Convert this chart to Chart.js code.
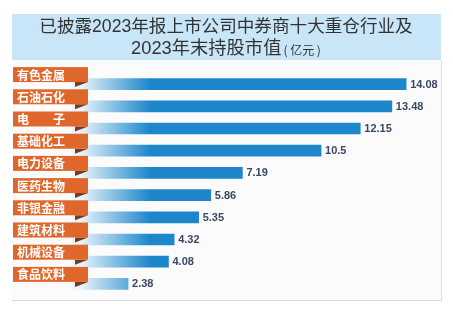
<!DOCTYPE html>
<html>
<head>
<meta charset="utf-8">
<script src="https://cdn.jsdelivr.net/npm/chart.js@4"></script>
<style>
html,body{margin:0;padding:0;background:#fff;}
#wrap{position:relative;width:453px;height:330px;}
canvas{display:block;}
</style>
</head>
<body>
<div id="wrap"><canvas id="c" width="453" height="330"></canvas></div>
<script>
const titleLine1 = '已披露2023年报上市公司中券商十大重仓行业及';
const titleLine2 = '2023年末持股市值';
const titleUnit = '( 亿元 )';
const categories = ['有色金属', '石油石化', '电　　子', '基础化工', '电力设备', '医药生物', '非银金融', '建筑材料', '机械设备', '食品饮料'];
const values = [14.08, 13.48, 12.15, 10.5, 7.19, 5.86, 5.35, 4.32, 4.08, 2.38];
const valueLabels = ['14.08', '13.48', '12.15', '10.5', '7.19', '5.86', '5.35', '4.32', '4.08', '2.38'];

const decor = {
  id: 'decor',
  beforeDraw(chart) {
    const ctx = chart.ctx;
    ctx.save();
    ctx.fillStyle = '#ffffff';
    ctx.fillRect(0, 0, 453, 330);
    // panel
    ctx.fillStyle = '#fbfbfb';
    ctx.fillRect(12, 60, 429, 240);
    ctx.strokeStyle = '#dcdcdc';
    ctx.lineWidth = 1;
    ctx.beginPath();
    ctx.moveTo(12, 300.5); ctx.lineTo(441.5, 300.5); ctx.lineTo(441.5, 60);
    ctx.stroke();
    // title box
    ctx.fillStyle = '#c8e6f7';
    ctx.fillRect(12, 14, 429, 46);
    ctx.fillStyle = '#333333';
    ctx.textBaseline = 'middle';
    ctx.textAlign = 'center';
    ctx.font = '17.6px "Liberation Sans", "Noto Sans CJK SC", sans-serif';
    ctx.fillText(titleLine1, 226, 27);
    ctx.font = '18.3px "Liberation Sans", "Noto Sans CJK SC", sans-serif';
    const w2 = ctx.measureText(titleLine2).width;
    ctx.font = '12px "Noto Sans CJK SC", sans-serif';
    const w3 = ctx.measureText(titleUnit).width;
    const start = 226 - (w2 + w3 + 2) / 2;
    ctx.textAlign = 'left';
    ctx.font = '18.3px "Liberation Sans", "Noto Sans CJK SC", sans-serif';
    ctx.fillText(titleLine2, start, 49);
    ctx.font = '12px "Noto Sans CJK SC", sans-serif';
    ctx.fillText(titleUnit, start + w2 + 2, 50);
    ctx.restore();
  },
  afterDatasetsDraw(chart) {
    const ctx = chart.ctx;
    const meta = chart.getDatasetMeta(0);
    ctx.save();
    meta.data.forEach((bar, i) => {
      const cy = bar.y;
      const top = cy - 17, bottom = cy - 2;
      // fold
      ctx.fillStyle = '#7c3b18';
      ctx.beginPath();
      ctx.moveTo(75, bottom);
      ctx.lineTo(88, bottom);
      ctx.lineTo(75, bottom + 5);
      ctx.closePath();
      ctx.fill();
      // box
      ctx.fillStyle = '#e0672b';
      ctx.fillRect(13, top, 75, bottom - top);
      ctx.fillStyle = '#ffffff';
      ctx.textBaseline = 'middle';
      ctx.textAlign = 'left';
      ctx.font = 'bold 12px "Noto Sans CJK SC", sans-serif';
      ctx.fillText(categories[i], 17, (top + bottom) / 2 + 0.5);
      // value
      ctx.fillStyle = '#3b4766';
      ctx.font = 'bold 11px "Liberation Sans", sans-serif';
      ctx.fillText(valueLabels[i], bar.x + 4, cy + 0.5);
    });
    ctx.restore();
  }
};

const ctx = document.getElementById('c').getContext('2d');
new Chart(ctx, {
  type: 'bar',
  data: {
    labels: categories,
    datasets: [{
      data: values,
      barThickness: 11,
      borderWidth: 0,
      backgroundColor(context) {
        const c = context.chart.ctx;
        const g = c.createLinearGradient(80, 0, 150, 0);
        g.addColorStop(0, '#eaf5fc');
        g.addColorStop(1, '#1e87cb');
        return g;
      }
    }]
  },
  options: {
    indexAxis: 'y',
    responsive: false,
    animation: false,
    layout: { padding: { left: 71.5, right: 25, top: 73, bottom: 35 } },
    scales: {
      x: { display: false, min: 0, max: 15 },
      y: { display: false }
    },
    plugins: { legend: { display: false }, tooltip: { enabled: false }, title: { display: false } }
  },
  plugins: [decor]
});
</script>
</body>
</html>
